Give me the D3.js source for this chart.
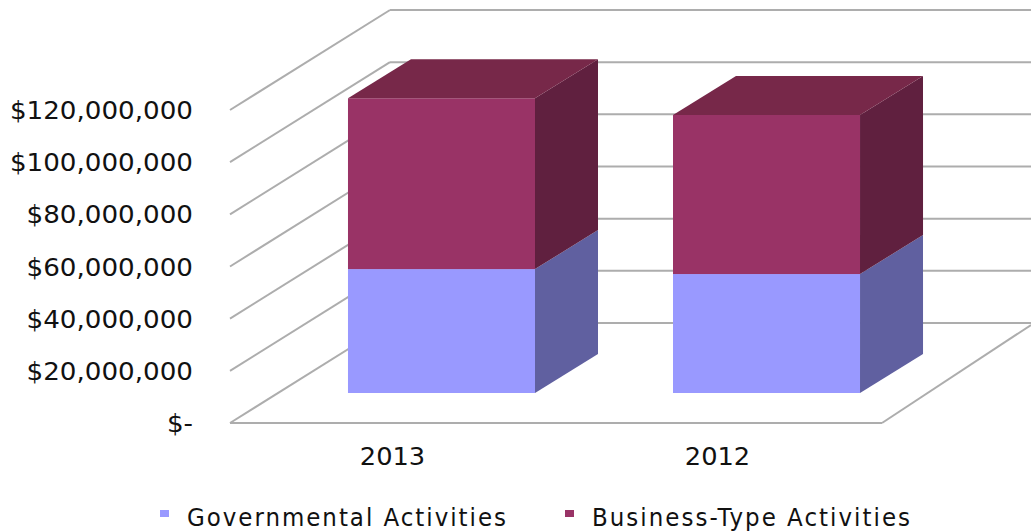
<!DOCTYPE html>
<html><head><meta charset="utf-8">
<script src="https://cdn.jsdelivr.net/npm/d3@7"></script>
<style>html,body{margin:0;background:#fff}svg{display:block}text{font-family:"DejaVu Sans",sans-serif;fill:#111}</style>
</head><body><svg id="c" width="1031" height="531"></svg>
<script>
const years = ["2013","2012"];
const governmental = [47500000, 45600000];
const business = [65500000, 61000000];
const tickValues = [0,20000000,40000000,60000000,80000000,100000000,120000000];
const tickLabels = ["$-","$20,000,000","$40,000,000","$60,000,000","$80,000,000","$100,000,000","$120,000,000"];
const seriesNames = ["Governmental Activities","Business-Type Activities"];
const frontColors = ["#9999ff","#993366"], sideColors = ["#6060a0","#60203f"], topColors = ["#7a7ad0","#772849"];

const svg = d3.select("#c");
const y = d3.scaleLinear().domain([0,120000000]).range([423,110]);
const x = d3.scaleBand().domain(years).range([230,882]).paddingInner(0.4246).paddingOuter(0.2153).align(0.843);
const depthX = 63, depthY = -39;
const wallDX = 160, wallDY = -100;

const grid = "#adadad";
const line=(a,b,c,d)=>svg.append("line").attr("x1",a).attr("y1",b).attr("x2",c).attr("y2",d).attr("stroke",grid).attr("stroke-width",2);
tickValues.forEach(t=>{
  const py=y(t);
  line(230,py,230+wallDX,py+wallDY);
  line(230+wallDX,py+wallDY,1031,py+wallDY);
});
line(230,423,882,423);
line(882,423,1031,325);

function stretched(px,py,anchor,size,str,k){
  const t=svg.append("text").attr("x",px).attr("y",py).attr("text-anchor",anchor).attr("font-size",size).text(str);
  t.attr("textLength",t.node().getComputedTextLength()*k).attr("lengthAdjust","spacingAndGlyphs");
  return t;
}

const shift = -30;
years.forEach((yr,i)=>{
  const bx=x(yr), w=x.bandwidth();
  let base=0;
  [governmental[i],business[i]].forEach((v,s)=>{
    const y0=y(base)+shift, y1=y(base+v)+shift;
    svg.append("polygon").attr("points",[[bx+w,y0],[bx+w+depthX,y0+depthY],[bx+w+depthX,y1+depthY],[bx+w,y1]].join(" ")).attr("fill",sideColors[s]);
    svg.append("rect").attr("x",bx).attr("y",y1).attr("width",w).attr("height",y0-y1).attr("fill",frontColors[s]);
    if(s===1) svg.append("polygon").attr("points",[[bx,y1],[bx+w,y1],[bx+w+depthX,y1+depthY],[bx+depthX,y1+depthY]].join(" ")).attr("fill",topColors[s]);
    base+=v;
  });
  stretched(bx+w/2-49,465,"middle",24,yr,1.07);
});
tickValues.forEach((t,i)=>{
  stretched(193,y(t)+9,"end",24,tickLabels[i],1.09);
});
const lx=[160,565], tx=[187,592], legendLen=[319,318];
seriesNames.forEach((n,i)=>{
  svg.append("rect").attr("x",lx[i]).attr("y",510).attr("width",9).attr("height",7).attr("fill",frontColors[i]);
  svg.append("text").attr("x",tx[i]).attr("y",526).attr("font-size",25.5)
    .style("font-family",'"DejaVu Sans Condensed","DejaVu Sans",sans-serif')
    .attr("textLength",legendLen[i]).attr("lengthAdjust","spacing").text(n);
});
</script></body></html>
